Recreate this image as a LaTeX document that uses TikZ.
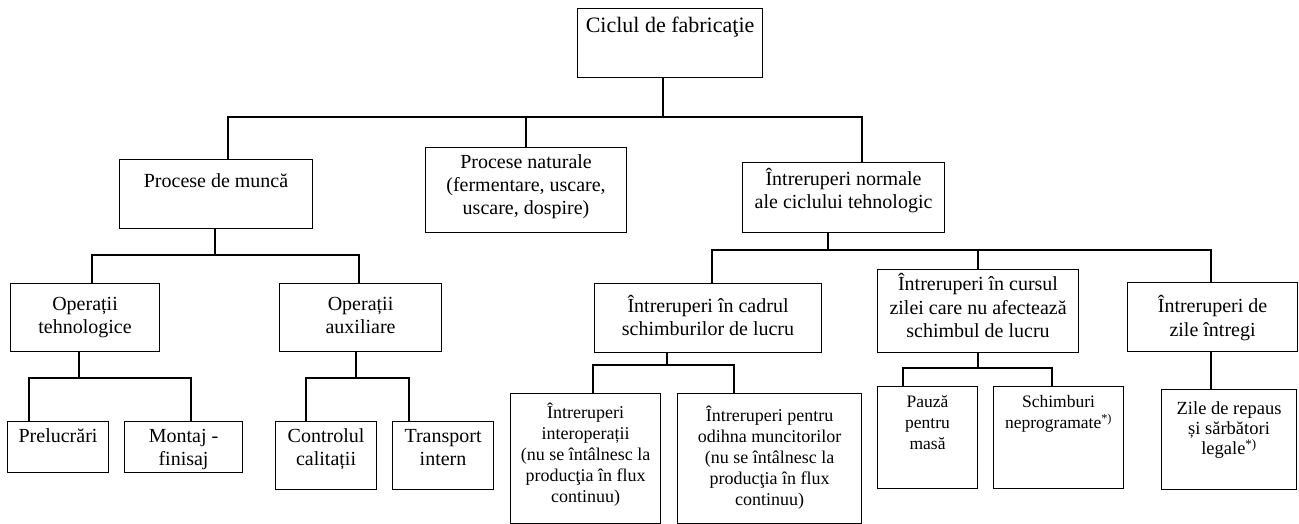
\documentclass[tikz,border=0pt]{standalone}
\usepackage{fontspec}
\setmainfont{Liberation Serif}
% fixed-size cell: width, height, first baseline from top, font size, leading, text (top aligned)
\newcommand\cell[6]{%
  \parbox[c][#2pt][t]{#1pt}{\fontsize{#4}{#5}\selectfont\centering\rule{0pt}{#3pt}#6}}
\tikzset{
  cellbox/.style={draw, line width=1.1pt, inner sep=0pt, anchor=north west},
  link/.style={line width=1.1pt, line cap=rect}
}
\begin{document}
\begin{tikzpicture}[x=1pt, y=-1pt]
\useasboundingbox (0,0) rectangle (1299,524);

% boxes
\node[cellbox] (ciclu) at (577,8) {\cell{185}{69}{24}{22}{25}{Ciclul de fabricaţie}};
\node[cellbox] (munca) at (119,159) {\cell{193}{69}{28}{20}{23}{Procese de muncă}};
\node[cellbox] (natur) at (425,147) {\cell{201}{85}{21}{20}{23}{Procese naturale\\(fermentare, uscare,\\uscare, dospire)}};
\node[cellbox] (norm) at (742,162) {\cell{202}{70}{23}{20}{23}{Întreruperi normale\\ale ciclului tehnologic}};
\node[cellbox] (optehn) at (10,283) {\cell{149}{68}{27}{20}{23}{Operații\\tehnologice}};
\node[cellbox] (opaux) at (279,283) {\cell{162}{68}{27}{20}{23}{Operații\\auxiliare}};
\node[cellbox] (cadru) at (594,283) {\cell{227}{69}{29}{20}{23}{Întreruperi în cadrul\\schimburilor de lucru}};
\node[cellbox] (curs) at (877,269) {\cell{201}{83}{21}{20}{23.5}{Întreruperi în cursul\\zilei care nu afectează\\schimbul de lucru}};
\node[cellbox] (zile) at (1127,282) {\cell{170}{69}{30}{20}{23.5}{Întreruperi de\\zile întregi}};
\node[cellbox] (prel) at (7,421) {\cell{101}{51}{21}{20}{23}{Prelucrări}};
\node[cellbox] (mont) at (124,421) {\cell{118}{51}{21}{20}{23}{Montaj -\\finisaj}};
\node[cellbox] (contr) at (275,421) {\cell{101}{68}{21}{20}{23}{Controlul\\calitații}};
\node[cellbox] (transp) at (392,421) {\cell{101}{68}{21}{20}{23}{Transport\\intern}};
\node[cellbox] (interop) at (510,393) {\cell{150}{130}{25}{18}{21}{Întreruperi\\interoperații\\(nu se întâlnesc la\\producţia în flux\\continuu)}};
\node[cellbox] (odihna) at (677,393) {\cell{184}{130}{28}{18}{21}{Întreruperi pentru\\odihna muncitorilor\\(nu se întâlnesc la\\producţia în flux\\continuu)}};
\node[cellbox] (pauza) at (877,386) {\cell{100}{102}{21}{17.5}{21}{Pauză\\pentru\\masă}};
\node[cellbox] (schimb) at (993,386) {\cell{130}{102}{21}{17.5}{21}{Schimburi\\neprogramate\textsuperscript{*)}}};
\node[cellbox] (repaus) at (1161,389) {\cell{135}{100}{25}{18.5}{20}{Zile de repaus\\și sărbători\\legale\textsuperscript{*)}}};

% bus junctions
\coordinate (b0) at (663,117);  \coordinate (b0l) at (228,117); \coordinate (b0m) at (526,117); \coordinate (b0r) at (862,117);
\coordinate (b1) at (215,255);  \coordinate (b1l) at (92,255);  \coordinate (b1r) at (359,255);
\coordinate (b2) at (79,378);   \coordinate (b2l) at (29,378);  \coordinate (b2r) at (191,378);
\coordinate (b3) at (356,378);  \coordinate (b3l) at (306,378); \coordinate (b3r) at (409,378);
\coordinate (b4) at (828,250);  \coordinate (b4l) at (712,250); \coordinate (b4m) at (978,250); \coordinate (b4r) at (1211,250);
\coordinate (b5) at (667,365);  \coordinate (b5l) at (593,365); \coordinate (b5r) at (734,365);
\coordinate (b6) at (978,368);  \coordinate (b6l) at (903,368); \coordinate (b6r) at (1052,368);

% Ciclul de fabricatie
\draw[link] (ciclu.south -| b0) -- (b0);
\draw[link] (b0l) -- (b0r);
\draw[link] (b0l) -- (b0l |- munca.north);
\draw[link] (b0m) -- (b0m |- natur.north);
\draw[link] (b0r) -- (b0r |- norm.north);

% Procese de munca
\draw[link] (munca.south -| b1) -- (b1);
\draw[link] (b1l) -- (b1r);
\draw[link] (b1l) -- (b1l |- optehn.north);
\draw[link] (b1r) -- (b1r |- opaux.north);

% Operatii tehnologice
\draw[link] (optehn.south -| b2) -- (b2);
\draw[link] (b2l) -- (b2r);
\draw[link] (b2l) -- (b2l |- prel.north);
\draw[link] (b2r) -- (b2r |- mont.north);

% Operatii auxiliare
\draw[link] (opaux.south -| b3) -- (b3);
\draw[link] (b3l) -- (b3r);
\draw[link] (b3l) -- (b3l |- contr.north);
\draw[link] (b3r) -- (b3r |- transp.north);

% Intreruperi normale
\draw[link] (norm.south -| b4) -- (b4);
\draw[link] (b4l) -- (b4r);
\draw[link] (b4l) -- (b4l |- cadru.north);
\draw[link] (b4m) -- (b4m |- curs.north);
\draw[link] (b4r) -- (b4r |- zile.north);

% Intreruperi in cadrul schimburilor
\draw[link] (cadru.south -| b5) -- (b5);
\draw[link] (b5l) -- (b5r);
\draw[link] (b5l) -- (b5l |- interop.north);
\draw[link] (b5r) -- (b5r |- odihna.north);

% Intreruperi in cursul zilei
\draw[link] (curs.south -| b6) -- (b6);
\draw[link] (b6l) -- (b6r);
\draw[link] (b6l) -- (b6l |- pauza.north);
\draw[link] (b6r) -- (b6r |- schimb.north);

% Intreruperi de zile intregi
\draw[link] (zile.south -| b4r) -- (b4r |- repaus.north);
\end{tikzpicture}
\end{document}
